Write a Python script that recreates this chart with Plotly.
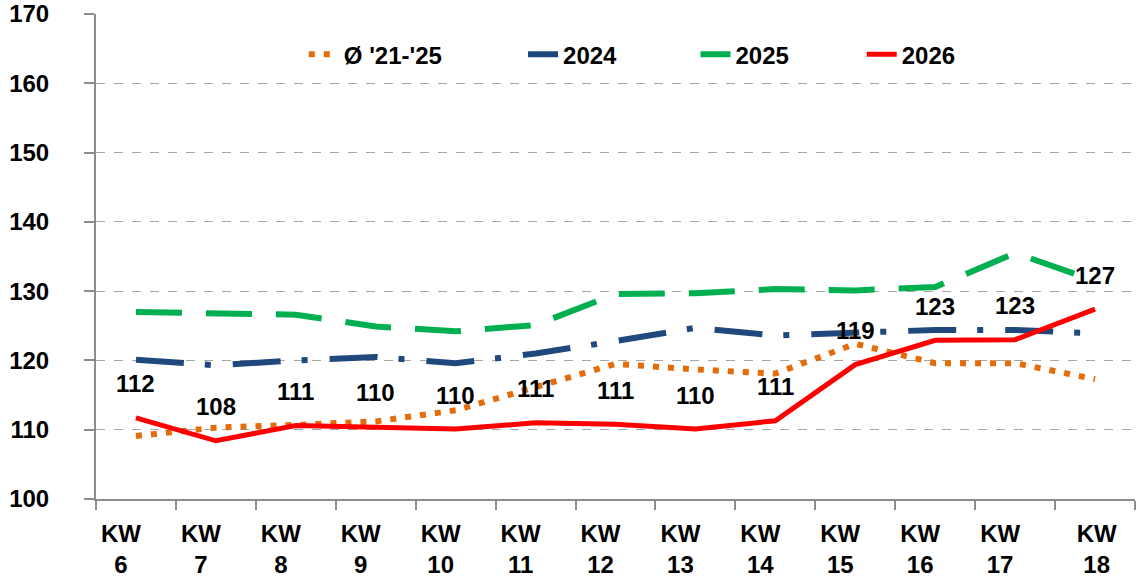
import plotly.graph_objects as go

# ---- data ----
weeks = [6, 7, 8, 9, 10, 11, 12, 13, 14, 15, 16, 17, 18]
categories = [f"KW {w}" for w in weeks]
tick_text = [f"KW<br>{w}" for w in weeks]

avg_21_25 = [109.1, 110.3, 110.7, 111.2, 112.8, 116.2, 119.5, 118.7, 118.1, 122.4, 119.6, 119.6, 117.3]
y2024 = [120.1, 119.3, 120.0, 120.5, 119.6, 121.0, 122.8, 124.7, 123.6, 124.0, 124.4, 124.4, 123.9]
y2025 = [127.0, 126.8, 126.6, 124.9, 124.2, 125.1, 129.6, 129.7, 130.3, 130.1, 130.6, 135.5, 131.5]
y2026 = [111.7, 108.4, 110.6, 110.4, 110.1, 111.0, 110.8, 110.1, 111.3, 119.4, 122.9, 123.0, 127.4]

series_names = ["Ø '21-'25", "2024", "2025", "2026"]
colors = ["#E46C0A", "#1F497D", "#00B050", "#FF0000"]
legend_x = [0.200, 0.411, 0.577, 0.737]

FONT = "Liberation Sans, Arial, sans-serif"
LFONT = dict(family=FONT, size=24, color="black", weight="bold")

fig = go.Figure()
fig.add_trace(go.Scatter(x=categories, y=avg_21_25, name=series_names[0], mode="lines",
                         legend="legend",
                         line=dict(color=colors[0], width=6, dash="6px,9px")))
fig.add_trace(go.Scatter(x=categories, y=y2024, name=series_names[1], mode="lines",
                         legend="legend2",
                         line=dict(color=colors[1], width=6, dash="48px,21px,6px,22px")))
fig.add_trace(go.Scatter(x=categories, y=y2025, name=series_names[2], mode="lines",
                         legend="legend3",
                         line=dict(color=colors[2], width=6, dash="46px,24px")))
fig.add_trace(go.Scatter(x=categories, y=y2026, name=series_names[3], mode="lines",
                         legend="legend4",
                         line=dict(color=colors[3], width=5)))

# data labels for 2026
for c, v in zip(categories, y2026):
    fig.add_annotation(x=c, y=v, text=f"{round(v)}", showarrow=False, yshift=34,
                       font=LFONT)

# shift last tick label back to center (others are shifted left)
tt = list(tick_text)
tt[-1] = "\u00a0" * 5 + "KW<br>" + "\u00a0" * 5 + str(weeks[-1])

def leg(x):
    return dict(orientation="h", x=x, xanchor="left", y=0.916, yanchor="middle",
                font=LFONT, bgcolor="rgba(0,0,0,0)", itemwidth=30)

fig.update_layout(
    width=1139, height=582,
    margin=dict(l=96, r=4, t=14, b=83),
    paper_bgcolor="white", plot_bgcolor="white",
    showlegend=True,
    legend=leg(legend_x[0]), legend2=leg(legend_x[1]),
    legend3=leg(legend_x[2]), legend4=leg(legend_x[3]),
    font=dict(family=FONT, size=24, color="black"),
)
fig.update_xaxes(
    type="category", categoryorder="array", categoryarray=categories,
    tickvals=categories, ticktext=tt, tickson="boundaries",
    range=[-0.5, 12.5], showgrid=False, automargin=False,
    showline=True, linecolor="#8C8C8C", linewidth=2,
    ticks="outside", ticklen=9, tickcolor="#8C8C8C", tickwidth=1.5,
    tickfont=LFONT, ticklabelshift=-15, ticklabelstandoff=12, tickangle=0,
)
fig.update_yaxes(
    range=[100, 170], tickvals=[100, 110, 120, 130, 140, 150, 160, 170],
    showgrid=True, gridcolor="#A6A6A6", griddash="dash", gridwidth=1,
    showline=True, linecolor="#8C8C8C", linewidth=2, automargin=False,
    ticks="outside", ticklen=10, tickcolor="#8C8C8C", tickwidth=1.5,
    tickfont=LFONT, ticklabelstandoff=30, zeroline=False,
)

fig.write_html(
    "out.html",
    config={"displayModeBar": False},
    post_script="document.body.style.margin='0';document.body.style.padding='0';"
                "document.body.style.overflow='hidden';",
)
